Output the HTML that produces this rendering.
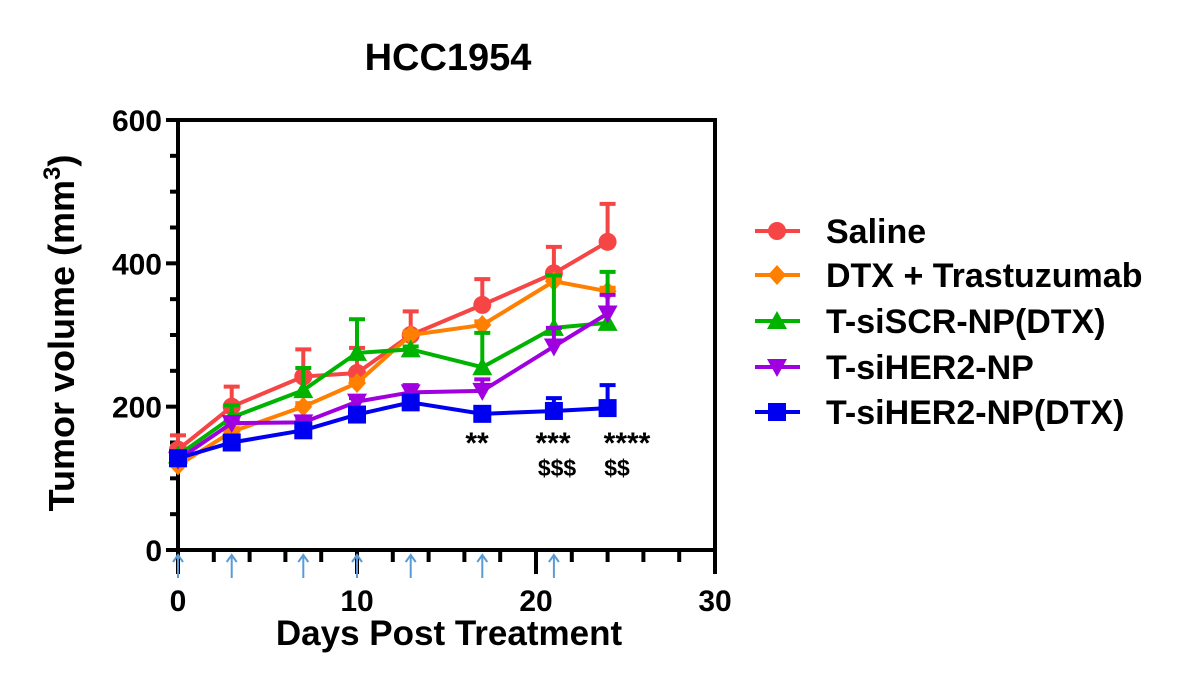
<!DOCTYPE html>
<html><head><meta charset="utf-8"><style>
html,body{margin:0;padding:0;background:#fff;}
svg{display:block;font-family:"Liberation Sans",Arial,sans-serif;font-weight:bold;}
</style></head><body>
<svg id="chart" width="1193" height="685" viewBox="0 0 1193 685">
<text x="448" y="70" text-anchor="middle" font-size="38">HCC1954</text>
<text transform="translate(74,333) rotate(-90)" text-anchor="middle" font-size="36">Tumor volume (mm<tspan font-size="24" dy="-14">3</tspan><tspan dy="14">)</tspan></text>
<text x="449" y="645" text-anchor="middle" font-size="35">Days Post Treatment</text>
<g id="axes"></g>
<g id="series"></g>
<g id="legend"></g>
<g font-size="30">
<text x="477" y="453" text-anchor="middle">**</text>
<text x="553" y="453" text-anchor="middle">***</text>
<text x="627" y="453" text-anchor="middle">****</text>
<text x="557" y="476" text-anchor="middle" font-size="23">$$$</text>
<text x="617" y="476" text-anchor="middle" font-size="23">$$</text>
</g>
</svg>
<script>
const days = [0,3,7,10,13,17,21,24];
const seriesNames = ["Saline","DTX + Trastuzumab","T-siSCR-NP(DTX)","T-siHER2-NP","T-siHER2-NP(DTX)"];
const salineMean = [140,200,242,247,300,342,386,430];
const salineErr = [20,28,38,35,33,36,37,53];
const dtxMean = [118,165,200,233,300,314,375,361];
const dtxErr = [5,5,5,5,5,5,5,5];
const scrMean = [132,185,223,275,280,255,310,317];
const scrErr = [5,17,31,47,4,48,73,71];
const her2Mean = [126,177,178,207,220,222,284,330];
const her2Err = [5,5,5,5,10,16,26,26];
const her2dtxMean = [128,150,167,189,206,190,194,198];
const her2dtxErr = [5,5,5,5,5,5,18,32];
const dosingDays = [0,3,7,10,13,17,21];
const yTicks = [0,200,400,600];
const xTicks = [0,10,20,30];

const NS="http://www.w3.org/2000/svg";
const X0=178,X1=715,Y0=550,Y1=120;
const xs=d=>X0+(d/30)*(X1-X0);
const ys=v=>Y0-(v/600)*(Y0-Y1);
function mk(tag,attrs,parent){const e=document.createElementNS(NS,tag);for(const k in attrs)e.setAttribute(k,attrs[k]);parent.appendChild(e);return e;}
const axes=document.getElementById('axes');
let f=mk('rect',{x:X0,y:Y1,width:X1-X0,height:Y0-Y1,fill:'none',stroke:'#000','stroke-width':4},axes);


for(let v=0;v<=600;v+=50){
  const major=yTicks.includes(v);
  const t=mk('line',{x1:major?X0-12:X0-8,x2:X0,y1:ys(v),y2:ys(v),stroke:'#000','stroke-width':4},axes);
  
  
}
yTicks.forEach(v=>{const t=mk('text',{x:X0-16,y:ys(v)+11,'text-anchor':'end','font-size':30},axes);t.textContent=v;
  
  });
for(let d=0;d<=30;d+=2){
  const major=d%10===0;
  const t=mk('line',{x1:xs(d),x2:xs(d),y1:Y0,y2:Y0+(major?24:12),stroke:'#000','stroke-width':4},axes);
  
  
}
xTicks.forEach(d=>{const t=mk('text',{x:xs(d),y:611,'text-anchor':'middle','font-size':30},axes);t.textContent=d;
  
  });
dosingDays.forEach(d=>{
  const g=mk('g',{stroke:'#5b9bd5','stroke-width':2,fill:'none'},axes);
  
  
  mk('line',{x1:xs(d),x2:xs(d),y1:578,y2:555},g);
  mk('polyline',{points:`${xs(d)-5},562 ${xs(d)},555 ${xs(d)+5},562`},g);
});
const colors=['#f64545','#ff8000','#00b300','#a000e0','#0000f0'];
const markers=['circle','diamond','triangle','tri-down','square'];
const means=[salineMean,dtxMean,scrMean,her2Mean,her2dtxMean];
const errs=[salineErr,dtxErr,scrErr,her2Err,her2dtxErr];
function marker(type,x,y,c,parent){
  if(type==='circle')return mk('circle',{cx:x,cy:y,r:9,fill:c},parent);
  if(type==='diamond')return mk('polygon',{points:`${x},${y-10} ${x+9},${y} ${x},${y+10} ${x-9},${y}`,fill:c},parent);
  if(type==='triangle')return mk('polygon',{points:`${x},${y-10} ${x+10},${y+8} ${x-10},${y+8}`,fill:c},parent);
  if(type==='tri-down')return mk('polygon',{points:`${x-10},${y-8} ${x+10},${y-8} ${x},${y+10}`,fill:c},parent);
  return mk('rect',{x:x-9,y:y-9,width:18,height:18,fill:c},parent);
}
const sg=document.getElementById('series');
means.forEach((m,i)=>{
  const g=mk('g',{},sg);
  
  
  days.forEach((d,j)=>{
    const top=ys(m[j]+errs[i][j]);
    const e=mk('g',{stroke:colors[i],'stroke-width':4},g);
    
    
    mk('line',{x1:xs(d),x2:xs(d),y1:ys(m[j]),y2:top},e);
    mk('line',{x1:xs(d)-8,x2:xs(d)+8,y1:top,y2:top},e);
  });
  mk('polyline',{points:days.map((d,j)=>xs(d)+','+ys(m[j])).join(' '),fill:'none',stroke:colors[i],'stroke-width':4},g);
  days.forEach((d,j)=>{const mm=marker(markers[i],xs(d),ys(m[j]),colors[i],g);
    
    });
});
const lg=document.getElementById('legend');
const rowY=[231,275,321,367,412];
seriesNames.forEach((n,i)=>{
  const g=mk('g',{},lg);
  
  
  mk('line',{x1:755,x2:800,y1:rowY[i],y2:rowY[i],stroke:colors[i],'stroke-width':4},g);
  marker(markers[i],777,rowY[i],colors[i],g);
  const t=mk('text',{x:826,y:rowY[i]+12,'font-size':34},g);t.textContent=n;
});
</script>
</body></html>
